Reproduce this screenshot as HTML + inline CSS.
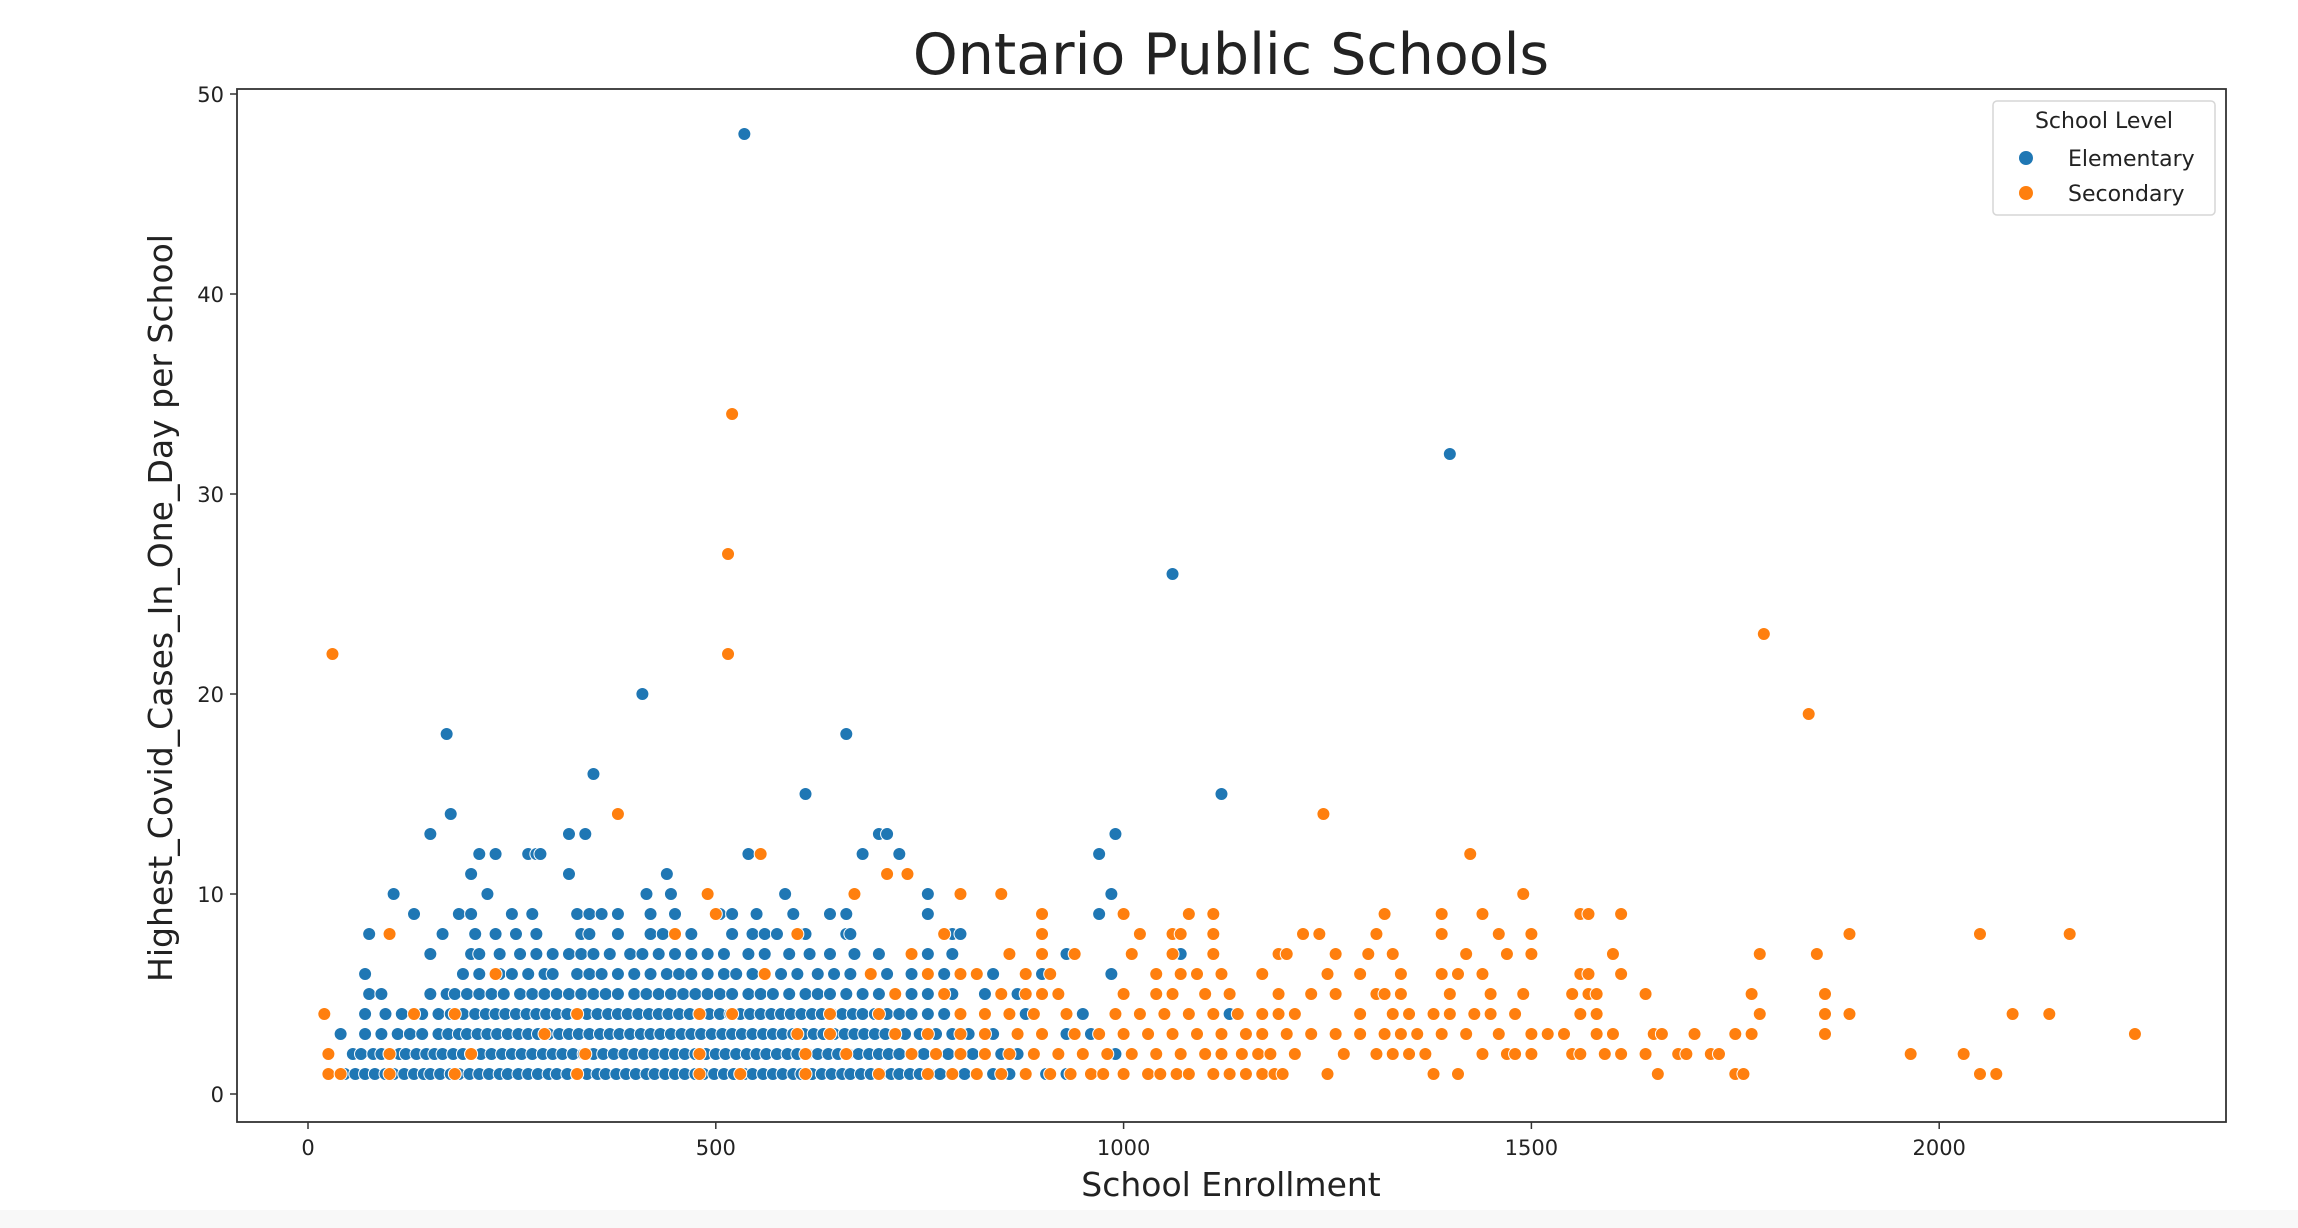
<!DOCTYPE html>
<html><head><meta charset="utf-8">
<style>
html,body{margin:0;padding:0;background:#fff;}
#wrap{position:relative;width:2298px;height:1228px;overflow:hidden;background:#fff;}
#strip{position:absolute;left:0;top:1210px;width:2298px;height:18px;background:#f8f8f8;}
svg text{font-family:"DejaVu Sans","Liberation Sans",sans-serif;fill:#222;}
</style></head>
<body>
<div id="wrap">
<div id="strip"></div>
<svg id="chart" width="2298" height="1228" style="position:absolute;left:0;top:0">
  <text x="1231" y="74" font-size="57" text-anchor="middle">Ontario Public Schools</text>
  <text x="1231" y="1196" font-size="33" text-anchor="middle">School Enrollment</text>
  <text transform="translate(172,608) rotate(-90)" font-size="33" text-anchor="middle">Highest_Covid_Cases_In_One_Day per School</text>
  <g id="marks"></g>
  <g id="axes"></g>
  <g id="legend">
    <rect x="1993" y="101" width="222" height="114" rx="4" fill="#fff" fill-opacity="0.85" stroke="#d6d6d6" stroke-width="1.5"/>
    <text x="2104" y="128" font-size="22" text-anchor="middle">School Level</text>
    <circle cx="2026" cy="158" r="7" fill="#1f77b4"/>
    <text x="2068" y="166" font-size="22">Elementary</text>
    <circle cx="2026" cy="193" r="7" fill="#ff7f0e"/>
    <text x="2068" y="201" font-size="22">Secondary</text>
  </g>
</svg>
</div>
<script>
// ---- data ----
const xTicks = [0, 500, 1000, 1500, 2000];
const yTicks = [0, 10, 20, 30, 40, 50];
const elemRow1 = [45,58,70,82,95,105,118,130,142,150,162,175,185,198,210,222,235,245,258,270,282,295,305,318,330,342,355,365,378,390,402,415,425,438,450,462,475,485,498,510,522,535,545,558,570,582,595,605,618,630,642,655,665,678,690,702,715,725,738,750,762,775,790,805,820,840,860,880,905,930,960];
const elemRow2 = [55,65,80,90,100,112,120,133,145,155,165,178,190,200,212,225,238,250,262,275,288,300,312,325,338,350,362,375,388,400,412,425,438,450,462,475,488,500,512,525,538,550,562,575,588,600,612,625,638,650,662,675,688,700,712,725,740,755,770,785,800,815,830,850,870,890,920,950,990,1010];
const elemRow3 = [40,70,90,110,125,140,160,172,185,195,208,220,232,245,258,270,282,295,308,320,332,345,358,370,382,395,408,420,432,445,458,470,482,495,508,520,532,545,558,570,582,595,608,620,632,645,658,670,682,695,708,720,732,750,770,790,810,840,870,900,930,960];
const elemRow4 = [70,95,115,140,160,175,190,205,218,230,242,255,268,280,292,305,318,330,342,355,368,380,392,405,418,430,442,455,468,480,492,505,518,530,542,555,568,580,592,605,618,630,642,655,668,680,695,710,725,740,760,780,800,830,860,880,930,950,1130];
const elemRow5 = [75,90,150,170,180,195,210,225,240,260,275,290,305,320,335,350,365,380,400,415,430,445,460,475,490,505,520,540,555,570,590,610,625,640,660,680,700,720,740,760,790,830,870,900,1000,1100];
const elemRow6 = [70,190,210,235,250,270,290,300,330,345,360,380,400,420,440,455,470,490,510,525,545,560,580,600,625,645,665,690,710,740,780,800,840,900,985];
const elemRow7 = [150,200,210,235,260,280,300,320,335,350,370,395,410,430,450,470,490,510,540,560,590,615,640,670,700,760,790,930,1070];
const elemRow8 = [75,165,205,230,255,280,335,345,380,420,435,470,520,545,560,575,605,610,660,665,790,800];
const elemRow9 = [130,185,200,250,275,330,345,360,380,420,450,505,520,550,595,640,660,760,970];
const elemOutliers = [[535,48],[1400,32],[1060,26],[410,20],[170,18],[660,18],[350,16],[610,15],[1120,15],[175,14],[150,13],[320,13],[340,13],[700,13],[710,13],[990,13],[210,12],[230,12],[270,12],[280,12],[285,12],[540,12],[680,12],[725,12],[970,12],[200,11],[320,11],[440,11],[105,10],[220,10],[415,10],[445,10],[585,10],[760,10],[985,10]];
const secRow1 = [25,40,100,180,330,480,530,610,700,760,790,820,850,880,910,935,960,975,1000,1030,1045,1065,1080,1110,1130,1150,1170,1185,1195,1250,1380,1410,1655,1750,1760,2050,2070];
const secRow2 = [25,100,200,340,480,610,660,740,770,800,830,860,890,920,950,980,1010,1040,1070,1100,1120,1145,1165,1180,1210,1270,1310,1330,1350,1370,1440,1470,1480,1500,1550,1560,1590,1610,1640,1680,1690,1720,1730,1965,2030];
const secRow3 = [290,600,640,720,760,800,830,870,900,940,970,1000,1030,1060,1090,1120,1150,1170,1200,1230,1260,1290,1320,1340,1360,1390,1420,1460,1500,1520,1540,1580,1600,1650,1660,1700,1750,1770,1860,2240];
const secRow4 = [20,130,180,330,480,520,640,700,800,830,860,890,930,990,1020,1050,1080,1110,1140,1170,1190,1210,1290,1330,1350,1380,1400,1430,1450,1480,1560,1580,1780,1860,1890,2090,2135];
const secRow5 = [720,780,850,880,900,920,1000,1040,1060,1100,1130,1190,1230,1260,1310,1320,1340,1400,1450,1490,1550,1570,1580,1640,1770,1860];
const secRow6 = [230,560,690,760,800,820,880,910,1040,1070,1090,1120,1170,1250,1290,1340,1390,1410,1440,1560,1570,1610];
const secRow7 = [740,860,900,940,1010,1060,1110,1190,1200,1260,1300,1330,1420,1470,1500,1600,1780,1850];
const secRow8 = [100,450,600,780,900,1020,1060,1070,1110,1220,1240,1310,1390,1460,1500,1890,2050,2160];
const secRow9 = [500,900,1000,1080,1110,1320,1390,1440,1560,1570,1610];
const secOutliers = [[30,22],[520,34],[515,27],[515,22],[1785,23],[1840,19],[1245,14],[380,14],[1425,12],[555,12],[710,11],[735,11],[490,10],[670,10],[800,10],[850,10],[1490,10]];

// ---- scales ----
const X0 = 308, XK = 0.8156, Y0 = 1094, YK = 20.0;
function sx(v){ return X0 + v * XK; }
function sy(v){ return Y0 - v * YK; }
const NS = 'http://www.w3.org/2000/svg';
const marks = document.getElementById('marks');
const axes = document.getElementById('axes');

function drawSeries(rows, outliers, color, name){
  const g = document.createElementNS(NS, 'g');
  
  
  const pts = [];
  rows.forEach((row, i) => row.forEach(x => pts.push([x, i + 1])));
  outliers.forEach(p => pts.push(p));
  pts.forEach(p => {
    const c = document.createElementNS(NS, 'circle');
    c.setAttribute('cx', sx(p[0]));
    c.setAttribute('cy', sy(p[1]));
    c.setAttribute('r', 6.5);
    c.setAttribute('fill', color);
    c.setAttribute('stroke', '#fff');
    c.setAttribute('stroke-width', 1);
    
    
    g.appendChild(c);
  });
  marks.appendChild(g);
}
drawSeries([elemRow1,elemRow2,elemRow3,elemRow4,elemRow5,elemRow6,elemRow7,elemRow8,elemRow9], elemOutliers, '#1f77b4', 'elementary');
drawSeries([secRow1,secRow2,secRow3,secRow4,secRow5,secRow6,secRow7,secRow8,secRow9], secOutliers, '#ff7f0e', 'secondary');

// frame
const frame = document.createElementNS(NS, 'rect');
frame.setAttribute('x', 237); frame.setAttribute('y', 89);
frame.setAttribute('width', 1989); frame.setAttribute('height', 1033);
frame.setAttribute('fill', 'none'); frame.setAttribute('stroke', '#333'); frame.setAttribute('stroke-width', 1.8);


axes.appendChild(frame);

xTicks.forEach(t => {
  const l = document.createElementNS(NS, 'line');
  l.setAttribute('x1', sx(t)); l.setAttribute('x2', sx(t));
  l.setAttribute('y1', 1122); l.setAttribute('y2', 1129);
  l.setAttribute('stroke', '#333'); l.setAttribute('stroke-width', 1.5);
  
  
  axes.appendChild(l);
  const tx = document.createElementNS(NS, 'text');
  tx.setAttribute('x', sx(t)); tx.setAttribute('y', 1155);
  tx.setAttribute('font-size', 21); tx.setAttribute('text-anchor', 'middle');
  tx.textContent = t;
  
  
  axes.appendChild(tx);
});
yTicks.forEach(t => {
  const l = document.createElementNS(NS, 'line');
  l.setAttribute('x1', 230); l.setAttribute('x2', 237);
  l.setAttribute('y1', sy(t)); l.setAttribute('y2', sy(t));
  l.setAttribute('stroke', '#333'); l.setAttribute('stroke-width', 1.5);
  
  
  axes.appendChild(l);
  const tx = document.createElementNS(NS, 'text');
  tx.setAttribute('x', 224); tx.setAttribute('y', sy(t) + 8);
  tx.setAttribute('font-size', 21); tx.setAttribute('text-anchor', 'end');
  tx.textContent = t;
  
  
  axes.appendChild(tx);
});
</script>
</body></html>
